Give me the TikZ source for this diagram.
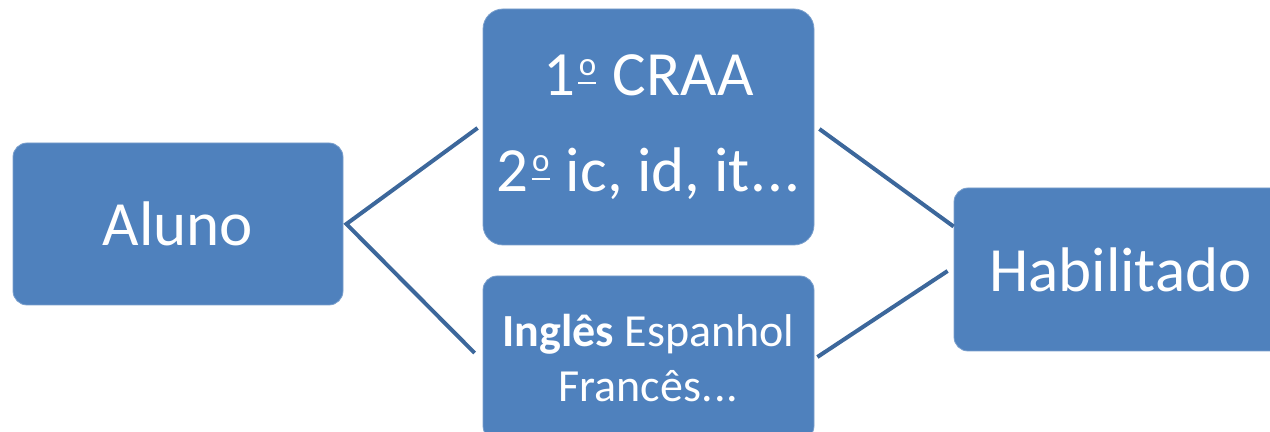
\documentclass[tikz,border=0pt]{standalone}
\usepackage{fontspec}
\setmainfont{Carlito}
\usetikzlibrary{positioning, calc}
\definecolor{boxblue}{HTML}{4F81BD}
\definecolor{lineblue}{HTML}{3C679B}
% underlined ordinal, as the reference font draws it
\newcommand{\ordo}{\makebox[11.5pt][l]{\kern1.5pt\rlap{\rule[5.6pt]{9pt}{1pt}}\raisebox{10pt}{\makebox[9pt]{\fontsize{16.5}{16.5}\selectfont o}}}}
\newcommand{\threedots}{.\kern0.6pt.\kern0.6pt.}

\begin{document}
\begin{tikzpicture}[x=0.5pt, y=-0.5pt]

\tikzset{stage/.style = {rectangle, rounded corners=7pt, fill=boxblue, draw=boxblue!75!white, line width=0.4pt, text=white, align=center, inner sep=0pt, font=\fontsize{31.5}{48}\selectfont}, }
\tikzset{link/.style = {draw=lineblue, line width=2pt, line join=miter}, }
\clip (0,0) rectangle (1270,432);
\node[stage, minimum width=165pt, minimum height=81pt] (aluno) at (178,224) {Aluno};
\node[stage, rounded corners=10pt, minimum width=165.5pt, minimum height=118pt] (top) at (648.5,127) {1\ordo{} CRAA\\2\ordo{} ic, id, it\threedots};
\node[stage, minimum width=165.5pt, minimum height=82pt, font=\fontsize{23}{27.5}\selectfont] (bottom) at (648.5,358) {\textbf{Inglês} Espanhol\\Francês\threedots};
\node[stage, minimum width=166.5pt, minimum height=81.5pt] (hab) at (1120.5,269.5) {Habilitado};

\draw[link] ($(top.west)+(-5,1)$) -- ($(aluno.east)+(3,0)$) -- ($(bottom.west)+(-8,-5)$);
\draw[link] ($(top.east)+(5,2)$) -- ($(hab.west)+(0,-43)$);
\draw[link] ($(bottom.east)+(3,-1)$) -- ($(hab.west)+(-6,1.5)$);
\end{tikzpicture}
\end{document}
